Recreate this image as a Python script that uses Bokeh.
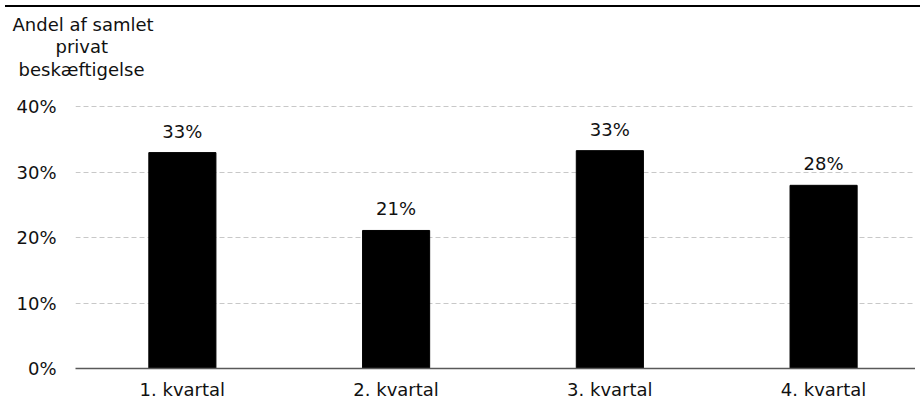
from bokeh.plotting import figure
from bokeh.models import (ColumnDataSource, LabelSet, Title, FixedTicker, Range1d, Div)
from bokeh.core.properties import value
from bokeh.layouts import column
from bokeh.embed import file_html
from bokeh.resources import INLINE

categories = ["1. kvartal", "2. kvartal", "3. kvartal", "4. kvartal"]
values = [33.0, 21.1, 33.3, 28.0]
value_labels = ["33%", "21%", "33%", "28%"]
y_ticks = [0, 10, 20, 30, 40]
y_tick_labels = ["0%", "10%", "20%", "30%", "40%"]
y_title_lines = ["Andel af samlet", "privat", "beskæftigelse"]

FONT = "DejaVu Sans"
FS = "18px"

xpos = [i + 0.5 for i in range(len(categories))]
src = ColumnDataSource(dict(x=xpos, top=values, lab=value_labels))

p = figure(width=915, height=390, output_backend="svg", toolbar_location=None,
           x_range=Range1d(0, 3.93), y_range=Range1d(0, 40.2),
           min_border_left=75, min_border_right=0, min_border_top=91, min_border_bottom=34)
p.outline_line_color = None
p.background_fill_color = "white"
p.border_fill_color = "white"

p.vbar(x="x", top="top", width=0.314, source=src, color="black")

labels = LabelSet(x="x", y="top", text="lab", source=src, y_offset=15,
                  text_align="center", text_baseline="alphabetic",
                  text_font=value(FONT), text_font_size=value(FS), text_color="#111111")
p.add_layout(labels)

# spacer between plot frame and the y-axis title block
p.add_layout(Title(text=" ", standoff=0, text_font=FONT, text_font_size="21px"), "above")

# y-axis title as three stacked title lines (first added sits nearest the frame)
offsets = {"Andel af samlet": -63, "privat": -20, "beskæftigelse": -57}
standoffs = {"Andel af samlet": -1, "privat": -1, "beskæftigelse": 0}
for line in reversed(y_title_lines):
    t = Title(text=line, align="left", offset=offsets[line], standoff=standoffs[line],
              text_font=FONT, text_font_size=FS, text_font_style="normal",
              text_color="#111111")
    p.add_layout(t, "above")

# axes
p.xaxis.ticker = FixedTicker(ticks=xpos)
p.xaxis.major_label_overrides = {x: c for x, c in zip(xpos, categories)}
p.xaxis.major_tick_line_color = None
p.xaxis.minor_tick_line_color = None
p.xaxis.axis_line_color = "#595959"
p.xaxis.axis_line_width = 1.5
p.xaxis.major_label_standoff = 4
p.xaxis.major_label_text_font = FONT
p.xaxis.major_label_text_font_size = FS
p.xaxis.major_label_text_color = "#111111"

p.yaxis.ticker = FixedTicker(ticks=y_ticks)
p.yaxis.major_label_overrides = {t: l for t, l in zip(y_ticks, y_tick_labels)}
p.yaxis.major_tick_line_color = None
p.yaxis.minor_tick_line_color = None
p.yaxis.axis_line_color = None
p.yaxis.major_label_standoff = 13
p.yaxis.major_label_text_font = FONT
p.yaxis.major_label_text_font_size = FS
p.yaxis.major_label_text_color = "#111111"

p.xgrid.grid_line_color = None
p.ygrid.ticker = FixedTicker(ticks=y_ticks[1:])
p.ygrid.grid_line_color = "#c8c8c8"
p.ygrid.grid_line_dash = "5 3"
p.ygrid.grid_line_width = 1

top_line = Div(text="", width=915, height=2, styles={"background-color": "black"})

layout = column(top_line, p, spacing=0)
open("out.html", "w").write(file_html(layout, INLINE))
